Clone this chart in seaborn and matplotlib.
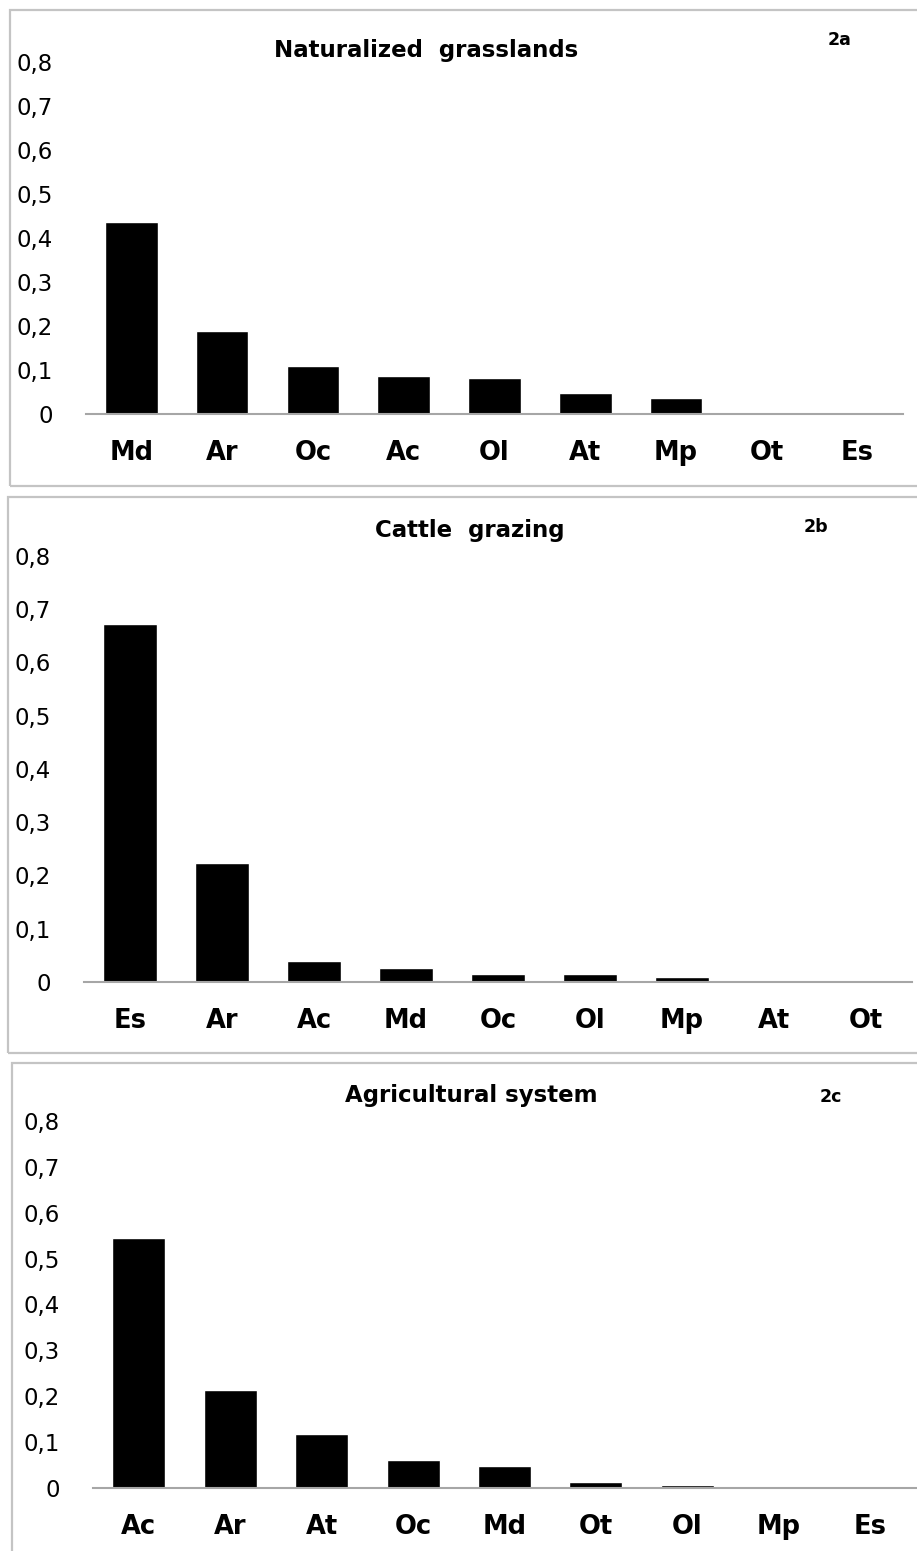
import matplotlib
matplotlib.use("Agg")
import matplotlib.pyplot as plt
import seaborn as sns
import pandas as pd
from matplotlib.patches import Rectangle
from matplotlib.ticker import FuncFormatter

# --- DATA ---
cats_a = ["Md", "Ar", "Oc", "Ac", "Ol", "At", "Mp", "Ot", "Es"]
vals_a = [0.436, 0.189, 0.108, 0.086, 0.081, 0.048, 0.037, 0.0, 0.0]

cats_b = ["Es", "Ar", "Ac", "Md", "Oc", "Ol", "Mp", "At", "Ot"]
vals_b = [0.673, 0.224, 0.039, 0.026, 0.015, 0.015, 0.010, 0.0, 0.0]

cats_c = ["Ac", "Ar", "At", "Oc", "Md", "Ot", "Ol", "Mp", "Es"]
vals_c = [0.545, 0.214, 0.117, 0.061, 0.047, 0.013, 0.006, 0.0, 0.0]

titles = ["Naturalized  grasslands", "Cattle  grazing", "Agricultural system"]
tags = ["2a", "2b", "2c"]
y_ticks = [0, 0.1, 0.2, 0.3, 0.4, 0.5, 0.6, 0.7, 0.8]

W, H = 917, 1551

sns.set_style("white")
plt.rcParams["font.family"] = ["DejaVu Sans"]
plt.rcParams["text.color"] = "black"
plt.rcParams["xtick.color"] = "black"
plt.rcParams["ytick.color"] = "black"

fig = plt.figure(figsize=(W / 100, H / 100), dpi=100)


def fx(px):
    return px / W


def fy(py):
    return 1 - py / H


# pixel layout of each panel: box, plot area, title/tag anchors
panels = [
    dict(cats=cats_a, vals=vals_a, box=(10, 10, 940, 486),
         plot=(86, 61.5, 903, 414), title=(426, 57), tag=(828, 45)),
    dict(cats=cats_b, vals=vals_b, box=(8, 497, 940, 1053),
         plot=(84, 556, 912, 982), title=(470, 537), tag=(804, 532)),
    dict(cats=cats_c, vals=vals_c, box=(12, 1063, 940, 1570),
         plot=(93, 1121, 916, 1488), title=(471, 1102), tag=(820, 1102)),
]

fmt = FuncFormatter(lambda v, p: "0" if abs(v) < 1e-9 else f"{v:.1f}".replace(".", ","))

for i, p in enumerate(panels):
    bx0, by0, bx1, by1 = p["box"]
    fig.add_artist(Rectangle((fx(bx0), fy(by1)), fx(bx1 - bx0), (by1 - by0) / H,
                             transform=fig.transFigure, fill=False,
                             edgecolor="#c4c4c4", linewidth=1.6))

    x0, y0, x1, y1 = p["plot"]
    ax = fig.add_axes([fx(x0), fy(y1), fx(x1 - x0), (y1 - y0) / H])
    df = pd.DataFrame({"species": p["cats"], "value": p["vals"]})
    sns.barplot(data=df, x="species", y="value", color="black", saturation=1,
                width=0.58, ax=ax)
    ax.set_xlim(-0.5, 8.5)
    ax.set_ylim(0, 0.8)
    ax.set_yticks(y_ticks)
    ax.yaxis.set_major_formatter(fmt)
    ax.set_xlabel("")
    ax.set_ylabel("")
    for s in ["left", "top", "right"]:
        ax.spines[s].set_visible(False)
    ax.spines["bottom"].set_color("#a6a6a6")
    ax.spines["bottom"].set_linewidth(1.5)
    ax.tick_params(axis="y", length=0, pad=24, labelsize=16.5, labelcolor="black")
    ax.tick_params(axis="x", length=0, pad=19, labelsize=18.5, labelcolor="black")
    for lab in ax.get_xticklabels():
        lab.set_fontweight("bold")
    ax.patch.set_alpha(0)

    tx, ty = p["title"]
    fig.text(fx(tx), fy(ty), titles[i], ha="center", va="baseline",
             fontsize=16.5, fontweight="bold", color="black")
    gx, gy = p["tag"]
    fig.text(fx(gx), fy(gy), tags[i], ha="left", va="baseline",
             fontsize=12.5, fontweight="bold", color="black")

fig.savefig("out.png", dpi=100)
